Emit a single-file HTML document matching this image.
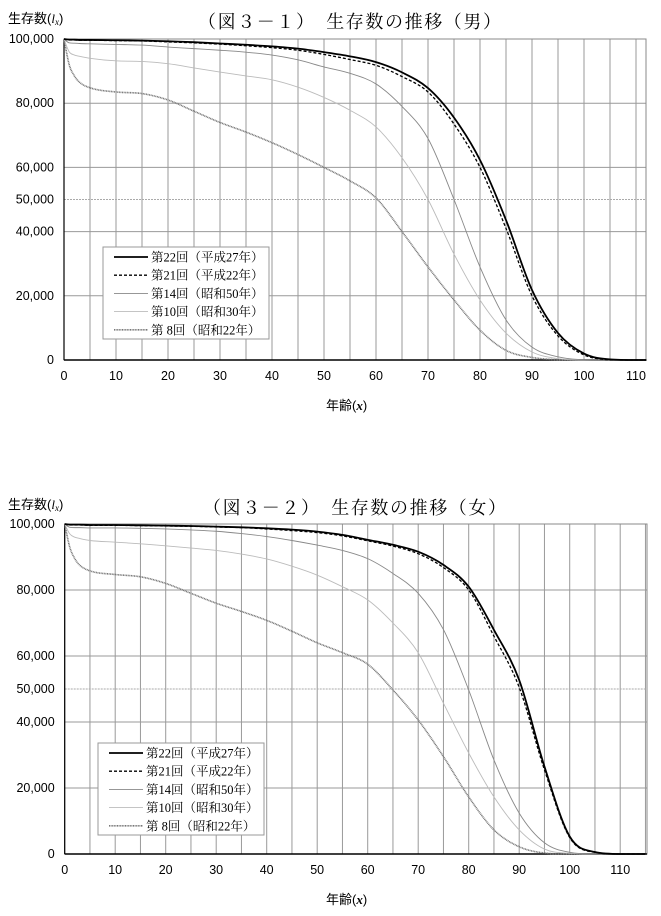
<!DOCTYPE html>
<html><head><meta charset="utf-8">
<style>
html,body{margin:0;padding:0;background:#fff;}
body{width:661px;height:911px;overflow:hidden;font-family:"Liberation Sans","Noto Sans CJK JP",sans-serif;}
svg text{font-family:"Liberation Sans","Noto Sans CJK JP",sans-serif;}
.ser{font-family:"Liberation Serif","Noto Serif CJK SC",serif;}
</style></head>
<body>
<svg id="svg" width="661" height="911" viewBox="0 0 661 911" xmlns="http://www.w3.org/2000/svg"></svg>
<script>
const ages = [0,1,2,3,5,10,15,20,25,30,35,40,45,50,55,60,65,70,75,80,85,90,95,100,105,110];
const maleH27 = [100,99.8,99.8,99.7,99.7,99.6,99.5,99.3,99.0,98.6,98.2,97.7,97.0,95.9,94.6,92.8,89.6,84.7,75.5,62.3,43.6,21.8,8.4,2.0,0.2,0];
const maleH22 = [100,99.7,99.7,99.6,99.6,99.5,99.4,99.1,98.8,98.4,97.9,97.3,96.5,95.2,93.6,91.8,88.3,83.5,73.5,60.0,41.0,20.0,7.5,1.6,0.1,0];
const maleS50 = [100,98.8,98.7,98.6,98.5,98.3,98.1,97.5,97.0,96.5,95.9,95.0,93.5,91.3,89.3,86.0,79.0,69.0,50.0,29.0,12.5,4.0,1.0,0.1,0,0];
const maleS30 = [100,96.0,95.0,94.6,94.0,93.2,93.0,92.3,91.0,89.7,88.5,87.3,85.0,81.8,77.8,72.6,63.0,50.0,33.0,18.7,8.4,2.5,0.4,0,0,0];
const maleS22 = [100,92.0,88.5,86.5,84.8,83.5,83.0,81.0,77.5,74.0,71.0,67.7,64.0,60.0,55.8,50.5,40.0,29.0,18.7,9.3,3.0,0.8,0.1,0,0,0];
const femH27 = [100,99.8,99.8,99.8,99.7,99.7,99.6,99.5,99.4,99.2,99.0,98.7,98.3,97.7,96.7,95.2,93.7,91.6,87.6,81.0,67.9,52.7,26.5,5.3,0.6,0];
const femH22 = [100,99.7,99.7,99.7,99.6,99.6,99.5,99.4,99.3,99.1,98.9,98.5,98.0,97.4,96.4,94.9,93.3,91.0,86.8,80.0,66.0,50.5,25.5,5.0,0.5,0];
const femS50 = [100,99.0,98.9,98.9,98.8,98.8,98.7,98.5,98.2,97.8,97.1,96.2,95.0,93.6,92.0,89.5,85.0,79.0,68.0,49.7,28.5,12.4,3.4,0.5,0,0];
const femS30 = [100,97.0,96.0,95.6,95.0,94.5,94.0,93.4,92.7,92.0,90.9,89.4,87.2,84.5,81.0,77.0,70.0,61.0,45.7,30.6,17.3,7.3,1.5,0.2,0,0];
const femS22 = [100,93.0,89.5,87.5,85.8,84.7,84.0,82.0,79.0,76.0,73.5,70.8,67.5,64.0,61.0,57.5,49.7,40.6,29.5,17.3,7.3,2.2,0.3,0,0,0];
const yTicks = [0,20000,40000,50000,60000,80000,100000];
const xTicks = [0,10,20,30,40,50,60,70,80,90,100,110];
const legendLabels = ["第22回（平成27年）","第21回（平成22年）","第14回（昭和50年）","第10回（昭和30年）","第 8回（昭和22年）"];

const NS="http://www.w3.org/2000/svg";
const svg=document.getElementById('svg');
function mk(tag,attrs,parent){const e=document.createElementNS(NS,tag);for(const k in attrs)e.setAttribute(k,attrs[k]);(parent||svg).appendChild(e);return e;}
const styles=[
 {stroke:"#000",w:1.8,dash:""},
 {stroke:"#000",w:1.3,dash:"3,2"},
 {stroke:"#888",w:0.9,dash:""},
 {stroke:"#bbb",w:0.9,dash:""},
 {stroke:"#777",w:1.6,dash:"1,0.6"}
];
function smoothPath(pts){
 const n=pts.length, d=[], m=new Array(n);
 for(let i=0;i<n-1;i++)d.push((pts[i+1][1]-pts[i][1])/(pts[i+1][0]-pts[i][0]));
 m[0]=d[0];m[n-1]=d[n-2];
 for(let i=1;i<n-1;i++){m[i]=(d[i-1]*d[i]<=0)?0:(d[i-1]+d[i])/2;}
 for(let i=0;i<n-1;i++){
  if(d[i]===0){m[i]=0;m[i+1]=0;continue;}
  const a=m[i]/d[i],b=m[i+1]/d[i],s=a*a+b*b;
  if(s>9){const t=3/Math.sqrt(s);m[i]=t*a*d[i];m[i+1]=t*b*d[i];}
 }
 let p=`M${pts[0][0].toFixed(2)},${pts[0][1].toFixed(2)}`;
 for(let i=0;i<n-1;i++){
  const h=pts[i+1][0]-pts[i][0];
  p+=` C${(pts[i][0]+h/3).toFixed(2)},${(pts[i][1]+m[i]*h/3).toFixed(2)} ${(pts[i+1][0]-h/3).toFixed(2)},${(pts[i+1][1]-m[i+1]*h/3).toFixed(2)} ${pts[i+1][0].toFixed(2)},${pts[i+1][1].toFixed(2)}`;
 }
 return p;
}
function chart(cfg){
 const g=mk('g',{});
 
 
 const X=a=>cfg.x0+a*cfg.px;
 const Y=v=>cfg.yb-(v/100000)*(cfg.yb-cfg.yt);
 for(let a=5;a<=cfg.xmax;a+=5){const l=mk('line',{x1:X(a),x2:X(a),y1:cfg.yt,y2:cfg.yb,stroke:"#999","stroke-width":1},g);
  }
 yTicks.forEach(t=>{
  const l=mk('line',{x1:cfg.x0,x2:cfg.xr,y1:Y(t),y2:Y(t),stroke:t==50000?"#aaa":"#999","stroke-width":1,"stroke-dasharray":t==50000?"2,1":""},g);
  
  const tx=mk('text',{x:cfg.x0-10,y:Y(t)+4,"text-anchor":"end","font-size":"12.5","fill":"#000"},g);
  tx.textContent=t.toLocaleString('en-US');
  
 });
 xTicks.forEach(t=>{
  const tx=mk('text',{x:X(t),y:cfg.yb+20,"text-anchor":"middle","font-size":"12.5"},g);
  tx.textContent=t;
  
 });
 const fr=mk('rect',{x:cfg.x0,y:cfg.yt,width:cfg.xr-cfg.x0,height:cfg.yb-cfg.yt,fill:"none",stroke:"#888","stroke-width":1},g);
 
 const ax=mk('line',{x1:cfg.x0,x2:cfg.xr,y1:cfg.yb,y2:cfg.yb,stroke:"#000","stroke-width":1.6},g);
 
 const ay=mk('line',{x1:cfg.x0,x2:cfg.x0,y1:cfg.yt,y2:cfg.yb,stroke:"#000","stroke-width":1.2},g);
 
 const names=['series-h27','series-h22','series-s50','series-s30','series-s22'];
 for(let i=4;i>=0;i--){
  const vals=cfg.series[i];
  const pts=ages.map((a,j)=>[X(a),Y(vals[j]*1000)]);
  pts.push([X(cfg.xmax),Y(0)]);
  const s=styles[i];
  const p=mk('path',{d:smoothPath(pts),fill:"none",stroke:s.stroke,"stroke-width":s.w,"stroke-dasharray":s.dash},g);
  
 }
 const lg=mk('g',{},g);
 
 mk('rect',{x:cfg.lx,y:cfg.ly,width:166,height:92,fill:"#fff",stroke:"#999","stroke-width":1},lg);
 legendLabels.forEach((lab,i)=>{
  const yy=cfg.ly+10+i*18.2;const s=styles[i];
  const e=mk('g',{},lg);
  
  mk('line',{x1:cfg.lx+11,x2:cfg.lx+45,y1:yy,y2:yy,stroke:s.stroke,"stroke-width":s.w,"stroke-dasharray":s.dash},e);
  const t=mk('text',{x:cfg.lx+48,y:yy+4.5,"font-size":"12.5","class":"ser"},e);t.textContent=lab;
 });
 const tt=mk('text',{x:cfg.tx,y:cfg.ty,"font-size":"18","letter-spacing":"1.6","class":"ser"},g);
 tt.textContent=cfg.title;
 const yl=mk('text',{x:8,y:cfg.ty-5,"font-size":"13"},g);
 
 yl.appendChild(document.createTextNode("生存数("));
 const li=mk('tspan',{"font-style":"italic","font-family":"Liberation Serif, serif"},yl);li.textContent="l";
 const lx=mk('tspan',{"font-size":"9","dy":"2","font-style":"italic","font-family":"Liberation Serif, serif"},yl);lx.textContent="x";
 const rp=mk('tspan',{"dy":"-2"},yl);rp.textContent=")";
 const xl=mk('text',{x:326,y:cfg.yb+50,"font-size":"13"},g);
 
 xl.appendChild(document.createTextNode("年齢("));
 const xi=mk('tspan',{"font-style":"italic","font-weight":"bold","font-family":"Liberation Serif, serif"},xl);xi.textContent="x";
 xl.appendChild(document.createTextNode(")"));
}
chart({name:'male-chart',x0:64,px:5.2,xr:646,xmax:112,yt:39,yb:360,series:[maleH27,maleH22,maleS50,maleS30,maleS22],lx:103,ly:247,title:"（図３－１）　生存数の推移（男）",tx:198,ty:28});
chart({name:'female-chart',x0:64.7,px:5.05,xr:647,xmax:115,yt:524,yb:854,series:[femH27,femH22,femS50,femS30,femS22],lx:98,ly:743,title:"（図３－２）　生存数の推移（女）",tx:203,ty:514});
</script>
</body></html>
